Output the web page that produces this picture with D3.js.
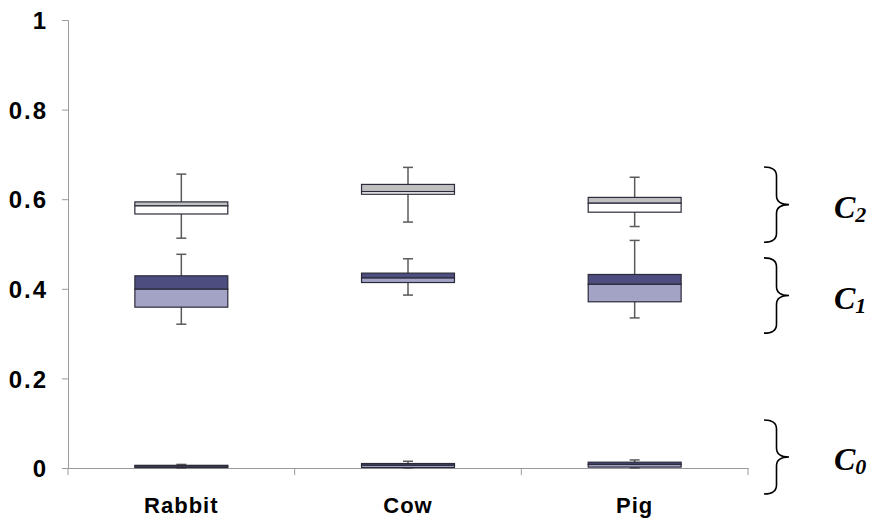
<!DOCTYPE html>
<html>
<head>
<meta charset="utf-8">
<script src="https://cdn.jsdelivr.net/npm/d3@7"></script>
<style>
  body { margin: 0; background: white; }
  svg { display: block; }
</style>
</head>
<body>
<svg class="chart" width="869" height="524"></svg>
<script>
const categories = ["Rabbit", "Cow", "Pig"];
const yTicks = [0, 0.2, 0.4, 0.6, 0.8, 1];
const yTickLabels = ["0", "0.2", "0.4", "0.6", "0.8", "1"];

// [low whisker, q1, median, q3, high whisker] per category
const c0Stats = [
  [0.0, 0.001, 0.004, 0.006, 0.008],
  [0.0, 0.001, 0.006, 0.010, 0.015],
  [0.0, 0.002, 0.008, 0.013, 0.018],
];
const c1Stats = [
  [0.321, 0.359, 0.399, 0.429, 0.477],
  [0.386, 0.414, 0.424, 0.435, 0.467],
  [0.335, 0.371, 0.410, 0.432, 0.508],
];
const c2Stats = [
  [0.513, 0.567, 0.585, 0.594, 0.656],
  [0.549, 0.611, 0.617, 0.633, 0.671],
  [0.539, 0.571, 0.591, 0.604, 0.649],
];
const groupNames = ["C", "C", "C"];
const groupSubs = ["0", "1", "2"];
// brace extents in data units [top, bottom]
const braceRanges = [
  [0.107, -0.058],
  [0.469, 0.301],
  [0.672, 0.504],
];

const upperColors = ["#4d4d7f", "#4d4d7f", "#c0c0c0"];
const lowerColors = ["#a3a3c6", "#a3a3c6", "#ffffff"];
const allStats = [c0Stats, c1Stats, c2Stats];

const svg = d3.select("svg.chart");
const margin = { left: 68, right: 121, top: 20, bottom: 56 };
const width = 869;
const height = 524;

const x = d3
  .scaleBand()
  .domain(categories)
  .range([margin.left, width - margin.right])
  .padding(0);

const y = d3
  .scaleLinear()
  .domain([0, 1])
  .range([height - margin.bottom, margin.top]);

const axisColor = "#9a9a9a";
const labelFont = "'Liberation Sans', Arial, sans-serif";

// y axis
const yAxis = svg
  .append("g")
  .attr("transform", `translate(${margin.left},0)`)
  .call(
    d3
      .axisLeft(y)
      .tickValues(yTicks)
      .tickSize(6)
      .tickPadding(14)
      .tickFormat((d, i) => yTickLabels[i])
  );
yAxis.select(".domain").attr("stroke", axisColor);
yAxis.selectAll(".tick line").attr("stroke", axisColor);
yAxis
  .selectAll(".tick text")
  .attr("fill", "#000")
  .attr("dy", "0.36em")
  .style("font-family", labelFont)
  .style("font-weight", "bold")
  .style("font-size", "24px")
  .style("letter-spacing", "2px");

// x axis
const xAxis = svg
  .append("g")
  .attr("transform", `translate(0,${y(0)})`)
  .call(d3.axisBottom(x).tickSize(0).tickPadding(29));
xAxis.select(".domain").attr("stroke", axisColor);
xAxis
  .selectAll(".tick text")
  .attr("fill", "#000")
  .style("font-family", labelFont)
  .style("font-weight", "bold")
  .style("font-size", "22px")
  .style("letter-spacing", "1px");

const bounds = categories.map((c) => x(c)).concat([x(categories[categories.length - 1]) + x.bandwidth()]);
xAxis
  .selectAll("line.sep")
  .data(bounds)
  .join("line")
  .attr("class", "sep")
  .attr("x1", (d) => d)
  .attr("x2", (d) => d)
  .attr("y1", 0)
  .attr("y2", 7)
  .attr("stroke", axisColor);

// boxes
const boxW = x.bandwidth() * 0.41;
const capW = 10;
const boxes = [];
allStats.forEach((stats, g) => {
  stats.forEach((s, i) => {
    boxes.push({ g, cat: categories[i], low: s[0], q1: s[1], med: s[2], q3: s[3], high: s[4] });
  });
});

const boxG = svg
  .selectAll("g.box")
  .data(boxes)
  .join("g")
  .attr("class", "box")
  .attr("transform", (d) => `translate(${x(d.cat) + x.bandwidth() / 2},0)`);

const whiskerColor = "#5a5a5a";
boxG
  .append("line")
  .attr("x1", 0)
  .attr("x2", 0)
  .attr("y1", (d) => y(d.high))
  .attr("y2", (d) => y(d.low))
  .attr("stroke", whiskerColor)
  .attr("stroke-width", 1.5);
boxG
  .append("line")
  .attr("x1", -capW / 2)
  .attr("x2", capW / 2)
  .attr("y1", (d) => y(d.high))
  .attr("y2", (d) => y(d.high))
  .attr("stroke", whiskerColor)
  .attr("stroke-width", 1.5);
boxG
  .append("line")
  .attr("x1", -capW / 2)
  .attr("x2", capW / 2)
  .attr("y1", (d) => y(d.low))
  .attr("y2", (d) => y(d.low))
  .attr("stroke", whiskerColor)
  .attr("stroke-width", 1.5);

const boxStroke = "#2b2b3b";
boxG
  .append("rect")
  .attr("x", -boxW / 2)
  .attr("width", boxW)
  .attr("y", (d) => y(d.q3))
  .attr("height", (d) => y(d.med) - y(d.q3))
  .attr("fill", (d) => upperColors[d.g])
  .attr("stroke", boxStroke)
  .attr("stroke-width", 1.2);
boxG
  .append("rect")
  .attr("x", -boxW / 2)
  .attr("width", boxW)
  .attr("y", (d) => y(d.med))
  .attr("height", (d) => y(d.q1) - y(d.med))
  .attr("fill", (d) => lowerColors[d.g])
  .attr("stroke", boxStroke)
  .attr("stroke-width", 1.2);

// braces and group labels
const braceX0 = 764;
const braceX1 = 789;
function bracePath(top, bot) {
  const xm = (braceX0 + braceX1) / 2;
  const mid = (top + bot) / 2;
  const q = 9;
  return `M${braceX0},${top} Q${xm},${top} ${xm},${top + q} L${xm},${mid - q} Q${xm},${mid} ${braceX1},${mid} ` +
    `Q${xm},${mid} ${xm},${mid + q} L${xm},${bot - q} Q${xm},${bot} ${braceX0},${bot}`;
}

svg
  .selectAll("path.brace")
  .data(braceRanges)
  .join("path")
  .attr("class", "brace")
  .attr("d", (d) => bracePath(y(d[0]), y(d[1])))
  .attr("fill", "none")
  .attr("stroke", "#000")
  .attr("stroke-width", 1.6);

const lbl = svg
  .selectAll("text.group")
  .data(braceRanges)
  .join("text")
  .attr("class", "group")
  .attr("x", 834)
  .attr("y", (d) => (y(d[0]) + y(d[1])) / 2 + 13)
  .style("font-family", "'Liberation Serif', 'DejaVu Serif', serif")
  .style("font-style", "italic")
  .style("font-weight", "bold")
  .style("font-size", "32px");
lbl.append("tspan").text((d, i) => groupNames[i]);
lbl
  .append("tspan")
  .attr("dy", 4)
  .style("font-size", "22px")
  .text((d, i) => groupSubs[i]);
</script>
</body>
</html>
